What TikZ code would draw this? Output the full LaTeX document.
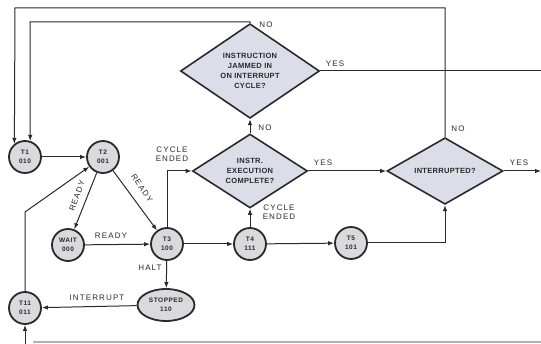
\documentclass[tikz,border=0pt]{standalone}
\usepackage{fontspec}
\setmainfont{Liberation Sans}
\usetikzlibrary{shapes.geometric,arrows.meta}
\definecolor{stfill}{HTML}{D9D9DE}
\definecolor{dfill}{HTML}{DCDDE8}
\definecolor{ink}{HTML}{2A2A2A}
\begin{document}
\begin{tikzpicture}[x=1pt,y=-1pt,
  every node/.style={text=ink},
  state/.style={circle,draw=ink,line width=1.8pt,fill=stfill,minimum size=32pt,inner sep=0pt,
    font=\fontsize{6.5}{9}\selectfont\bfseries\addfontfeature{LetterSpace=8},align=center},
  stopst/.style={ellipse,draw=ink,line width=1.8pt,fill=stfill,minimum width=57pt,minimum height=32pt,inner sep=0pt,
    font=\fontsize{6.5}{9}\selectfont\bfseries\addfontfeature{LetterSpace=8},align=center},
  dec/.style={diamond,draw=ink,line width=1.6pt,fill=dfill,inner sep=0pt,
    font=\fontsize{7.5}{10}\selectfont\bfseries\addfontfeature{LetterSpace=4},align=center},
  lbl/.style={font=\fontsize{8}{9.5}\selectfont\addfontfeature{LetterSpace=14},inner sep=1pt,align=center},
  conn/.style={draw=ink,line width=1pt},
  arr/.style={conn,-{Latex[length=6pt,width=4.5pt]}}
]
\useasboundingbox (0,0) rectangle (541,344);

% states
\node[state] (t1) at (25,157) {T1\\010};
\node[state] (t2) at (103,157) {T2\\001};
\node[state] (wait) at (68,245) {WAIT\\000};
\node[state] (t3) at (167,244) {T3\\100};
\node[state] (t4) at (250,244) {T4\\111};
\node[state] (t5) at (351,243) {T5\\101};
\node[stopst] (stop) at (166,305) {STOPPED\\110};
\node[state] (t11) at (25,308) {T11\\011};

% decisions
\node[dec,minimum width=139pt,minimum height=78pt] (jam) at (250,71) {INSTRUCTION\\JAMMED IN\\ON INTERRUPT\\CYCLE?};
\node[dec,minimum width=115pt,minimum height=65pt] (exe) at (250,171) {INSTR.\\EXECUTION\\COMPLETE?};
\node[dec,minimum width=116pt,minimum height=65pt] (int) at (445,171) {INTERRUPTED?};

% free ends
\coordinate (jamout) at (541,71);
\coordinate (intout) at (541,171);
\coordinate (bot) at (25,344);
\coordinate (botl) at (33,342);
\coordinate (botr) at (541,342);

% connectors
\draw[arr] (t1) -- (t2);
\draw[arr] (int.north) |- (15,8) -- (t1.129);
\draw[arr] (jam.north) |- (30,22) -- (t1.72);
\draw[conn] (jam.east) -- (jamout);
\draw[arr] (exe.north) -- (jam.south);
\draw[arr] (exe.east) -- (int.west);
\draw[arr] (int.east) -- (intout);
\draw[arr] (t3.north) |- (exe.west);
\draw[arr] (t4.north) -- (exe.south);
\draw[arr] (t3) -- (t4);
\draw[arr] (t4) -- (t5);
\draw[arr] (t5.east) -| (int.south);
\draw[arr] (t2) -- (wait);
\draw[arr] (t2) -- (t3);
\draw[arr] (wait) -- (t3);
\draw[arr] (t3) -- (stop);
\draw[arr] (stop) -- (t11);
\draw[arr] (t11.north) -- (25,212) -- (t2);
\draw[arr] (bot) -- (t11);
\draw[gray!60,line width=1.5pt] (botl) -- (botr);

% labels
\node[lbl] at (266,25) {NO};
\node[lbl] at (458,129) {NO};
\node[lbl] at (335,64) {YES};
\node[lbl] at (265,128) {NO};
\node[lbl] at (323,163) {YES};
\node[lbl] at (519,163) {YES};
\node[lbl] at (172,154) {CYCLE\\ENDED};
\node[lbl] at (279,212) {CYCLE\\ENDED};
\node[lbl] at (111,236) {READY};
\node[lbl] at (150,268) {HALT};
\node[lbl] at (97,298) {INTERRUPT};
\node[lbl,rotate=70] at (77,196) {READY};
\node[lbl,rotate=-57] at (142,188) {READY};
\end{tikzpicture}
\end{document}
